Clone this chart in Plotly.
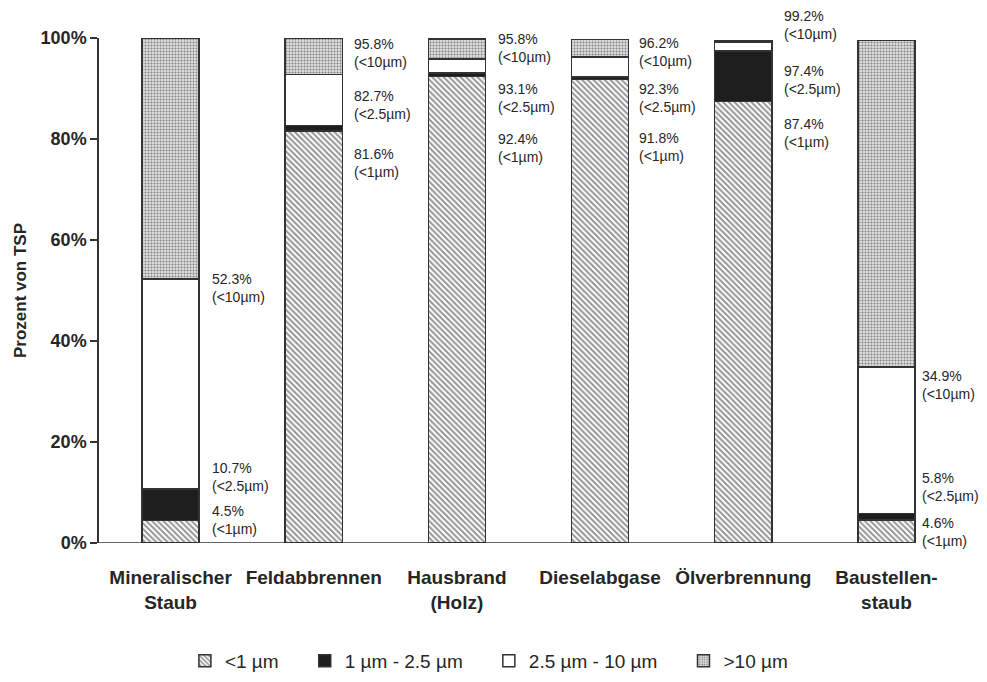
import plotly.graph_objects as go

# ---- data ----
categories = ["Mineralischer<br>Staub", "Feldabbrennen", "Hausbrand<br>(Holz)",
              "Dieselabgase", "Ölverbrennung", "Baustellen-<br>staub"]
series_names = ["<1 µm", "1 µm - 2.5 µm", "2.5 µm - 10 µm", ">10 µm"]

# cumulative shares (% of TSP) as drawn in the bars
cum_lt1 = [4.5, 81.6, 92.4, 91.8, 87.4, 4.6]
cum_lt25 = [10.7, 82.7, 93.1, 92.3, 97.4, 5.8]
cum_lt10 = [52.3, 92.8, 95.8, 96.2, 99.2, 34.9]
cum_total = [100.0, 100.0, 99.8, 99.7, 99.5, 99.5]

# printed label values
label_lt1 = [4.5, 81.6, 92.4, 91.8, 87.4, 4.6]
label_lt25 = [10.7, 82.7, 93.1, 92.3, 97.4, 5.8]
label_lt10 = [52.3, 95.8, 95.8, 96.2, 99.2, 34.9]
label_units = ["(<1µm)", "(<2.5µm)", "(<10µm)"]

# vertical placement of the printed labels (axis units, 0-100)
label_pos_lt1 = [4.55, 75.2, 78.2, 78.4, 81.2, 2.2]
label_pos_lt25 = [13.1, 86.7, 88.1, 88.1, 91.7, 11.1]
label_pos_lt10 = [50.5, 97.0, 98.0, 97.2, 102.6, 31.3]
# horizontal gap (px) between each bar and its labels
label_gap = [11, 10, 10, 8, 10, 5]

# ---- derived segments ----
seg1 = cum_lt1
seg2 = [b - a for a, b in zip(cum_lt1, cum_lt25)]
seg3 = [b - a for a, b in zip(cum_lt25, cum_lt10)]
seg4 = [b - a for a, b in zip(cum_lt10, cum_total)]

FONT = "Liberation Sans, Arial, sans-serif"
INK = "#262626"
x = list(range(len(categories)))
outline = dict(color="#333333", width=1.5)
PAD = "\u00a0\u00a0\u00a0\u00a0"

styles = [
    dict(color="white", line=outline,
         pattern=dict(shape="\\", fgcolor="#2a2a2a", bgcolor="white", size=4, solidity=0.5)),
    dict(color="#1e1e1e", line=outline),
    dict(color="white", line=outline),
    dict(color="white", line=outline,
         pattern=dict(shape=".", fgcolor="#222222", bgcolor="#dedede", size=3, solidity=0.35)),
]

fig = go.Figure()
for name, seg, st in zip(series_names, [seg1, seg2, seg3, seg4], styles):
    fig.add_trace(go.Bar(x=x, y=seg, name=name + PAD, marker=st, width=0.4, hoverinfo="skip"))

annotations = []
for vals, pos, unit in [(label_lt1, label_pos_lt1, label_units[0]),
                        (label_lt25, label_pos_lt25, label_units[1]),
                        (label_lt10, label_pos_lt10, label_units[2])]:
    for i, (v, p) in enumerate(zip(vals, pos)):
        annotations.append(dict(
            x=i + 0.2, y=p / 100.0, xref="x", yref="paper", xanchor="left", yanchor="middle",
            xshift=label_gap[i], showarrow=False, align="left",
            text=f"{v:.1f}%<br>{unit}",
            font=dict(family=FONT, size=14, color=INK)))

fig.update_layout(
    barmode="stack",
    width=979, height=666,
    margin=dict(l=91, r=29, t=30, b=131, autoexpand=False),
    paper_bgcolor="white", plot_bgcolor="white",
    font=dict(family=FONT, color=INK),
    annotations=annotations,
    legend=dict(orientation="h", x=0.1, xanchor="left", y=-0.2337, yanchor="middle",
                font=dict(family=FONT, size=19, color=INK), traceorder="normal",
                itemclick=False, itemdoubleclick=False),
    shapes=[dict(type="line", xref="x", yref="y", x0=-0.5, x1=5.2, y0=0, y1=0,
                 line=dict(color="#333333", width=1.5))],
)
fig.update_xaxes(range=[-0.5, 5.5], tickmode="array", tickvals=x,
                 ticktext=[f"<b>{c}</b>".replace("<br>", "</b><br><b>") for c in categories],
                 showline=False, showgrid=False, zeroline=False, ticks="", automargin=False,
                 tickfont=dict(family=FONT, size=19, color=INK), ticklabelstandoff=21)
fig.update_yaxes(range=[0, 100], tickvals=[0, 20, 40, 60, 80, 100],
                 ticktext=["<b>0%</b>", "<b>20%</b>", "<b>40%</b>", "<b>60%</b>", "<b>80%</b>", "<b>100%</b>"],
                 showline=True, linecolor="#333333", linewidth=1.5, automargin=False,
                 ticks="outside", ticklen=7, tickwidth=1.5, tickcolor="#333333",
                 showgrid=False, zeroline=False,
                 tickfont=dict(family=FONT, size=18, color=INK),
                 title=dict(text="<b>Prozent von TSP</b>", font=dict(family=FONT, size=17, color=INK), standoff=10))

fig.write_html("out.html")
